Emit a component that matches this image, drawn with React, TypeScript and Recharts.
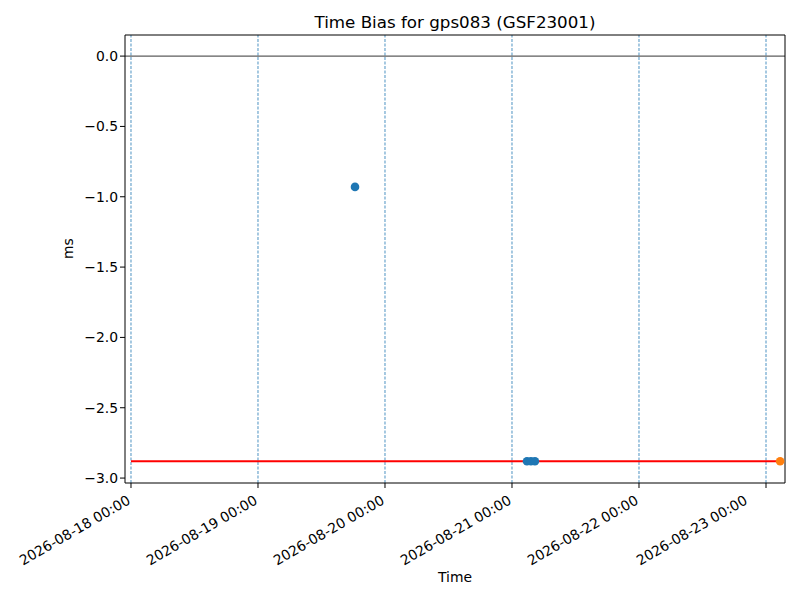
import { ComposedChart, Line, Scatter, XAxis, YAxis, ReferenceLine } from 'recharts';

const DAY = 86400000;
const t = (s: string) => Date.parse(s + 'Z');

// day ticks on the time axis
const dayTicks = [
  t('2026-08-18T00:00:00'),
  t('2026-08-19T00:00:00'),
  t('2026-08-20T00:00:00'),
  t('2026-08-21T00:00:00'),
  t('2026-08-22T00:00:00'),
  t('2026-08-23T00:00:00'),
];
const yTicks = [0, -0.5, -1, -1.5, -2, -2.5, -3];

// measured time bias (ms)
const blueTimes = ['2026-08-19T18:20:00', '2026-08-21T02:50:00', '2026-08-21T03:35:00', '2026-08-21T04:20:00'];
const blueBias = [-0.93, -2.88, -2.88, -2.88];
const orangeTimes = ['2026-08-23T02:40:00'];
const orangeBias = [-2.88];

// red limit line
const limitTimes = ['2026-08-18T00:00:00', '2026-08-23T02:40:00'];
const limitValue = -2.88;

const bluePts = blueTimes.map((s, i) => ({ t: t(s), v: blueBias[i] }));
const orangePts = orangeTimes.map((s, i) => ({ t: t(s), v: orangeBias[i] }));
const limitPts = limitTimes.map((s) => ({ t: t(s), v: limitValue }));

const xMin = dayTicks[0] - 0.0472 * DAY;
const xMax = dayTicks[0] + 5.1496 * DAY;
const yMin = -3.035;
const yMax = 0.15;

const font = 'DejaVu Sans, sans-serif';

const fmtDate = (ms: number) => {
  const iso = new Date(ms).toISOString();
  return iso.slice(0, 10) + ' ' + iso.slice(11, 16);
};
const fmtY = (v: number) => v.toFixed(1).replace('-', '\u2212');

const DateTick = (props: any) => {
  const { x, y, payload } = props;
  return (
    <g transform={`translate(${x - 5},${y + 4})`}>
      <text
        x={0}
        y={0}
        dy="0.76em"
        textAnchor="end"
        transform="rotate(-30)"
        fontSize={13.9}
        fontFamily={font}
        fill="#000"
      >
        {fmtDate(payload.value)}
      </text>
    </g>
  );
};

const dot = (color: string) => (p: any) => <circle cx={p.cx} cy={p.cy} r={4.3} fill={color} />;

export default function App() {
  return (
    <div style={{ position: 'absolute', left: 0, top: 0, width: 800, height: 600, background: '#fff' }}>
      <div
        style={{
          position: 'absolute',
          left: 125,
          width: 660,
          top: 12,
          textAlign: 'center',
          fontFamily: font,
          fontSize: 16.7,
          lineHeight: '20px',
        }}
      >
        Time Bias for gps083 (GSF23001)
      </div>
      <ComposedChart width={800} height={600} margin={{ top: 35, right: 15, left: 0, bottom: 0 }}>
        <XAxis
          dataKey="t"
          type="number"
          domain={[xMin, xMax]}
          ticks={dayTicks}
          tick={<DateTick />}
          tickSize={5}
          height={117}
          stroke="#000"
          allowDataOverflow
          label={{ value: 'Time', position: 'insideBottom', offset: 18, fill: '#000', fontSize: 13.9, fontFamily: font }}
        />
        <YAxis
          dataKey="v"
          type="number"
          domain={[yMin, yMax]}
          ticks={yTicks}
          tickFormatter={fmtY}
          tickSize={5}
          width={125}
          stroke="#000"
          allowDataOverflow
          tick={{ fill: '#000', fontSize: 13.9, fontFamily: font }}
          label={{ value: 'ms', angle: -90, position: 'insideLeft', offset: 68, fill: '#000', fontSize: 13.9, fontFamily: font }}
        />
        {dayTicks.map((d) => (
          <ReferenceLine key={d} x={d} stroke="#1f77b4" strokeWidth={0.8} strokeDasharray="3 1.5" />
        ))}
        <ReferenceLine y={0} stroke="#000" strokeWidth={0.8} />
        <ReferenceLine y={yMax} stroke="#000" strokeWidth={1} />
        <ReferenceLine x={xMax} stroke="#000" strokeWidth={1} />
        <Line
          data={limitPts}
          dataKey="v"
          stroke="#ff0000"
          strokeWidth={2}
          dot={false}
          activeDot={false}
          isAnimationActive={false}
        />
        <Scatter data={bluePts} dataKey="v" fill="#1f77b4" shape={dot('#1f77b4')} isAnimationActive={false} />
        <Scatter data={orangePts} dataKey="v" fill="#ff7f0e" shape={dot('#ff7f0e')} isAnimationActive={false} />
      </ComposedChart>
    </div>
  );
}
